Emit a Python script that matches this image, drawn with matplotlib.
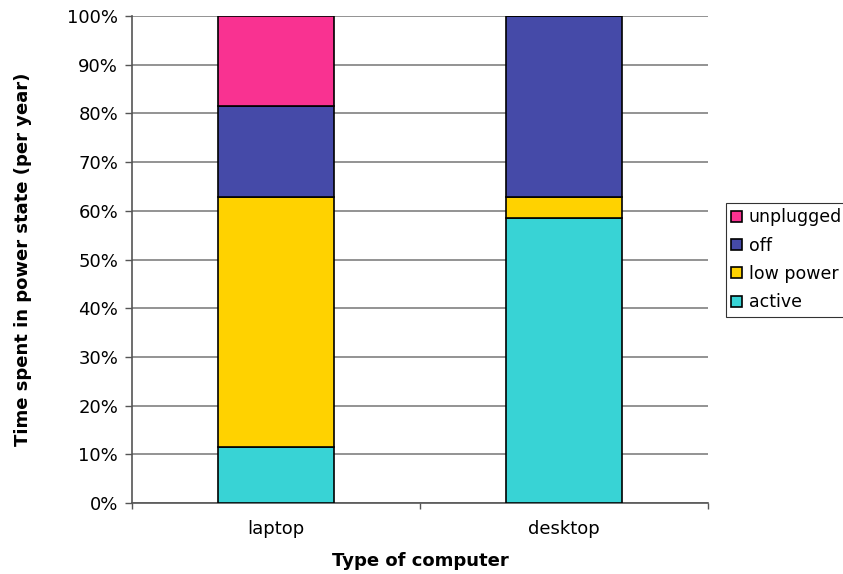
import numpy as np
import matplotlib.pyplot as plt
from matplotlib.ticker import PercentFormatter

# share of the year spent in each power state (%)
computers = ['laptop', 'desktop']
states = ['active', 'low power', 'off', 'unplugged']
active = [11.4, 58.6]
low_power = [51.4, 4.3]
off = [18.7, 37.1]
unplugged = [18.5, 0.0]
colors = ['#38D3D5', '#FFD200', '#454AA8', '#F93291']

fig = plt.figure(figsize=(8.43, 5.74), dpi=100)
ax = fig.add_axes([0.1566, 0.1237, 0.6833, 0.8484])

x = np.arange(len(computers))
bottom = np.zeros(len(computers))
handles = []
for vals, c, name in zip([active, low_power, off, unplugged], colors, states):
    h = ax.bar(x, vals, 0.4, bottom=bottom, color=c, edgecolor='black',
               linewidth=1.2, label=name, zorder=3)
    handles.append(h)
    bottom += np.array(vals)

ax.set_xlim(-0.5, 1.5)
ax.set_ylim(0, 100)
ax.set_yticks(np.arange(0, 101, 10))
ax.yaxis.set_major_formatter(PercentFormatter(decimals=0))
ax.grid(axis='y', color='#808080', linewidth=1.2, zorder=0)

# category labels centred, tick marks between categories
ax.set_xticks(x)
ax.set_xticklabels(computers, fontsize=13)
ax.tick_params(axis='x', length=0, pad=12)
ax.set_xticks([-0.5, 0.5, 1.5], minor=True)
ax.tick_params(axis='x', which='minor', length=4, color='#555555', width=1)
ax.tick_params(axis='y', labelsize=13, length=5, color='#555555', width=1, pad=5)

for s in ['top', 'right']:
    ax.spines[s].set_visible(False)
for s in ['left', 'bottom']:
    ax.spines[s].set_color('#555555')
    ax.spines[s].set_linewidth(1.2)

ax.set_xlabel('Type of computer', fontsize=13, fontweight='bold', labelpad=10)
ax.set_ylabel('Time spent in power state (per year)', fontsize=13,
              fontweight='bold', labelpad=25)

leg = fig.legend(handles[::-1], states[::-1], loc='upper left',
                 bbox_to_anchor=(726 / 843, 1 - 203 / 574), fontsize=12.5,
                 frameon=True, fancybox=False, edgecolor='black',
                 handlelength=0.6, handleheight=0.6, handletextpad=0.4,
                 labelspacing=0.6, borderpad=0.3, borderaxespad=0)
leg.get_frame().set_linewidth(0.8)

fig.savefig('out.png', dpi=100)
